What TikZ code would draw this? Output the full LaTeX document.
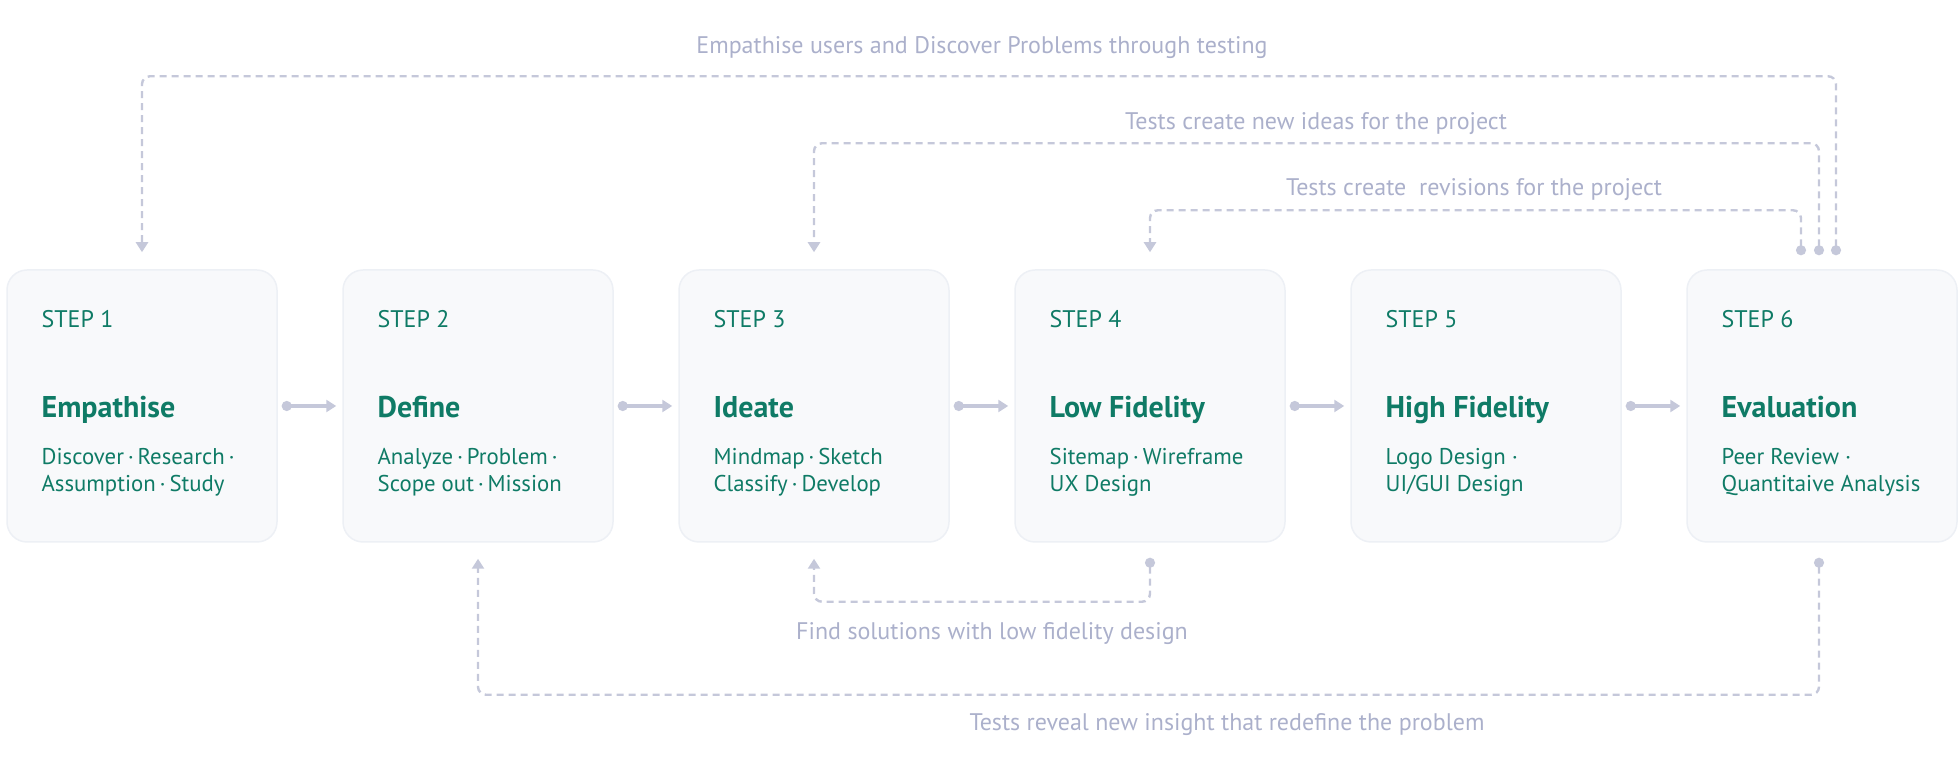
\documentclass[tikz,border=0pt]{standalone}
\usepackage{fontspec}
\setmainfont{PT Sans}
\usetikzlibrary{positioning, arrows.meta}
\definecolor{stepgreen}{HTML}{0F7B66}
\definecolor{linkgray}{HTML}{C5C8DA}
\definecolor{notegray}{HTML}{ABB0CB}
\definecolor{boxfill}{HTML}{F8F9FB}
\definecolor{boxline}{HTML}{EDF0F5}

\tikzset{
  stepbox/.style={draw=boxline, line width=0.75pt, fill=boxfill, rounded corners=10pt,
    minimum width=135pt, minimum height=136pt, inner sep=0pt},
  steptag/.style={anchor=base west, inner sep=0pt, text=stepgreen, font=\fontsize{12}{14}\selectfont},
  stepname/.style={anchor=base west, inner sep=0pt, text=stepgreen, font=\fontsize{15}{17}\selectfont\bfseries},
  stepdesc/.style={anchor=base west, inner sep=0pt, text=stepgreen, align=left, font=\fontsize{11.4}{13.5}\selectfont},
  note/.style={anchor=base, inner sep=0pt, text=notegray, font=\fontsize{12}{14}\selectfont},
  link/.style={draw=linkgray, line width=1.6pt, {Circle[length=5pt]}-{Triangle[length=5pt,width=6pt]}},
  loopback/.style={draw=linkgray, line width=1.2pt, dash pattern=on 3.5pt off 2.5pt, rounded corners=4pt,
    {Circle[length=5pt]}-{Triangle[length=5pt,width=6pt]}}
}

\begin{document}
\begin{tikzpicture}[x=0.5pt, y=0.5pt]
\useasboundingbox (0,0) rectangle (1960,776);

% the six steps
\node[stepbox] (s1) at (142,370) {};
\node[stepbox, right=32.25pt of s1] (s2) {};
\node[stepbox, right=32.25pt of s2] (s3) {};
\node[stepbox, right=32.25pt of s3] (s4) {};
\node[stepbox, right=32.25pt of s4] (s5) {};
\node[stepbox, right=32.25pt of s5] (s6) {};

\foreach \i/\name/\descr in {
  1/Empathise/{Discover\,·\,Research\,·\\Assumption\,·\,Study},
  2/Define/{Analyze\,·\,Problem\,·\\Scope out\,·\,Mission},
  3/Ideate/{Mindmap\,·\,Sketch\\Classify\,·\,Develop},
  4/Low Fidelity/{Sitemap\,·\,Wireframe\\UX Design},
  5/High Fidelity/{Logo Design ·\\UI/GUI Design},
  6/Evaluation/{Peer Review ·\\Quantitaive Analysis}} {
  \node[steptag] (tag\i) at ([xshift=17.5pt, yshift=-29pt]s\i.north west) {STEP \i};
  \node[stepname] (name\i) at ([xshift=17.5pt, yshift=-74pt]s\i.north west) {\name};
  \node[stepdesc] (desc\i) at ([xshift=17.5pt, yshift=-111pt]s\i.north west) {\descr};
}

\foreach \i [evaluate=\i as \j using int(\i+1)] in {1,...,5}
  \draw[link] ([xshift=2pt]s\i.east) -- ([xshift=-3pt]s\j.west);

% loops back from testing
\draw[loopback] ([xshift=7pt, yshift=7pt]s6.north) -- ++(0,179) -| ([yshift=8.5pt]s1.north);
\draw[loopback] ([xshift=-1.5pt, yshift=7pt]s6.north) -- ++(0,112) -| ([yshift=8.5pt]s3.north);
\draw[loopback] ([xshift=-10.5pt, yshift=7pt]s6.north) -- ++(0,45) -| ([yshift=8.5pt]s4.north);
\draw[loopback] ([yshift=-7.5pt]s4.south) -- ++(0,-44) -| ([yshift=-8pt]s3.south);
\draw[loopback] ([xshift=-1.5pt, yshift=-7.5pt]s6.south) -- ++(0,-137) -| ([yshift=-8pt]s2.south);

\node[note] (empathise) at (982,722) {Empathise users and Discover Problems through testing};
\node[note] (ideas) at (1316,646) {Tests create new ideas for the project};
\node[note] (revisions) at (1474,580) {Tests create~ revisions for the project};
\node[note] (solutions) at (992,136) {Find solutions with low fidelity design};
\node[note] (insight) at (1227,45) {Tests reveal new insight that redefine the problem};

\end{tikzpicture}
\end{document}
